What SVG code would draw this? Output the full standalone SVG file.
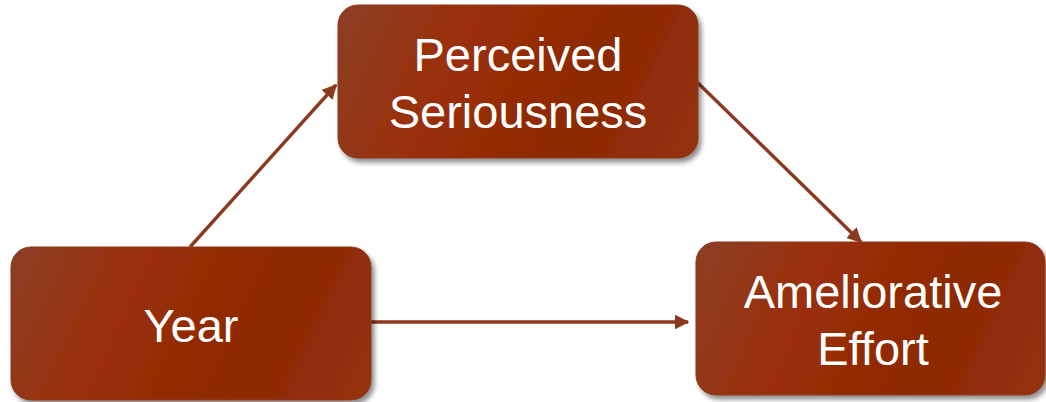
<svg xmlns="http://www.w3.org/2000/svg" width="1046" height="402" viewBox="0 0 1046 402">
  <defs>
    <linearGradient id="boxGrad" x1="0" y1="0.4" x2="1" y2="0.6">
      <stop offset="0" stop-color="#8F3C20"/>
      <stop offset="0.3" stop-color="#9A2F08"/>
      <stop offset="0.7" stop-color="#8D2903"/>
      <stop offset="1" stop-color="#93300B"/>
    </linearGradient>
    <filter id="shadow" x="-10%" y="-10%" width="125%" height="130%">
      <feGaussianBlur in="SourceAlpha" stdDeviation="2.5"/>
      <feOffset dx="3" dy="4" result="b"/>
      <feComponentTransfer><feFuncA type="linear" slope="0.45"/></feComponentTransfer>
      <feMerge><feMergeNode/><feMergeNode in="SourceGraphic"/></feMerge>
    </filter>
    <marker id="arrow" viewBox="0 0 10 10" refX="9" refY="5" markerWidth="4.4" markerHeight="4.4" orient="auto" markerUnits="strokeWidth">
      <path d="M0,0 L10,5 L0,10 z" fill="#8B3A1E"/>
    </marker>
    <style>
      .box { fill: url(#boxGrad); stroke: #8A3A20; stroke-width: 1; filter: url(#shadow); }
      .label { font-family: "Liberation Sans", Arial, sans-serif; font-size: 47px; fill: #ffffff; text-anchor: middle; }
      .conn { stroke: #8B3A1E; stroke-width: 3.4; fill: none; marker-end: url(#arrow); }
    </style>
  </defs>

  <g id="connectors">
    <line class="conn" x1="190" y1="247" x2="336" y2="85"/>
    <line class="conn" x1="698" y1="83" x2="861" y2="242"/>
    <line class="conn" x1="371" y1="322" x2="688" y2="322"/>
  </g>

  <g id="node-perceived">
    <rect class="box" x="338" y="5" width="360" height="153" rx="20" ry="20"/>
    <text class="label" x="518" y="71">Perceived</text>
    <text class="label" x="518" y="128">Seriousness</text>
  </g>

  <g id="node-year">
    <rect class="box" x="11" y="247" width="360" height="153" rx="20" ry="20"/>
    <text class="label" x="191" y="342">Year</text>
  </g>

  <g id="node-ameliorative">
    <rect class="box" x="696" y="242" width="349" height="153" rx="20" ry="20"/>
    <text class="label" x="873" y="308">Ameliorative</text>
    <text class="label" x="873" y="365">Effort</text>
  </g>
</svg>
